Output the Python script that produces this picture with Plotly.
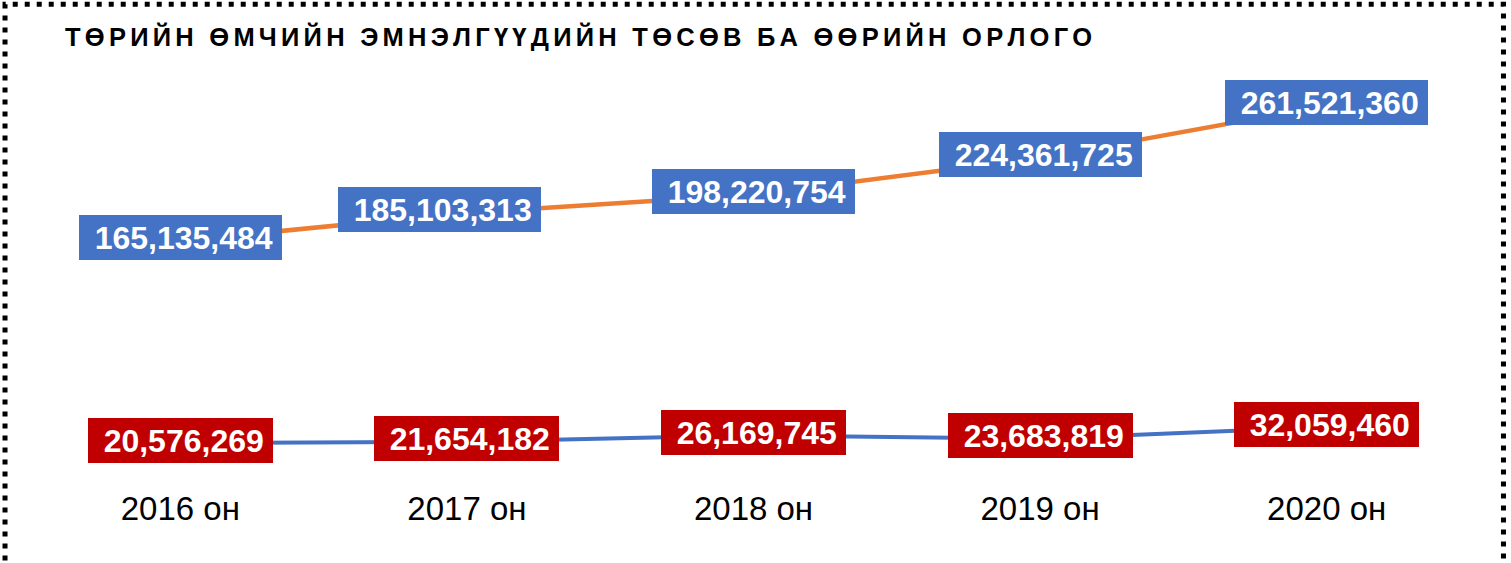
import plotly.graph_objects as go

# ---- data ----
categories = ["2016 он", "2017 он", "2018 он", "2019 он", "2020 он"]
budget = [165135484, 185103313, 198220754, 224361725, 261521360]
own_income = [20576269, 21654182, 26169745, 23683819, 32059460]
title_text = "ТӨРИЙН ӨМЧИЙН ЭМНЭЛГҮҮДИЙН ТӨСӨВ БА ӨӨРИЙН ОРЛОГО"

W, H = 1511, 563
L, R, T, B = 36.5, 40.5, 52, 91
pw, ph = W - L - R, H - T - B

def px_to_paper_x(px):
    return (px - L) / pw

def px_to_paper_y(py):
    return (H - B - py) / ph

FONT = "Arial, 'Liberation Sans', sans-serif"
xs = list(range(len(categories)))

fig = go.Figure()
fig.add_trace(go.Scatter(x=xs, y=budget, mode="lines",
                         line=dict(color="#ED7D31", width=4.5), hoverinfo="skip"))
fig.add_trace(go.Scatter(x=xs, y=own_income, mode="lines",
                         line=dict(color="#4472C4", width=4), hoverinfo="skip"))

annotations = []
for i, v in enumerate(budget):
    annotations.append(dict(
        x=i, y=v, xref="x", yref="y", text="\u2009" + f"{v:,}", showarrow=False,
        font=dict(family=FONT, size=32, color="white", weight="bold"),
        bgcolor="#4472C4", borderpad=0, borderwidth=0, width=203, height=45,
        xshift=-27 if i == 1 else 0, yshift=3))
for i, v in enumerate(own_income):
    annotations.append(dict(
        x=i, y=v, xref="x", yref="y", text="\u2009" + f"{v:,}", showarrow=False,
        font=dict(family=FONT, size=32, color="white", weight="bold"),
        bgcolor="#C00000", borderpad=0, borderwidth=0, width=185, height=45,
        yshift=3))

spaced_title = "\u2006".join(title_text)

fig.update_layout(
    width=W, height=H,
    margin=dict(l=L, r=R, t=T, b=B, pad=0),
    paper_bgcolor="white", plot_bgcolor="white",
    showlegend=False,
    title=dict(text=spaced_title, xref="container", yref="container",
               x=65 / W, xanchor="left", y=1 - 37 / H, yanchor="middle",
               font=dict(family=FONT, size=25.5, color="black", weight="bold")),
    xaxis=dict(range=[-0.5, len(categories) - 0.5], tickmode="array",
               tickvals=xs, ticktext=categories, showgrid=False, zeroline=False,
               showline=False, ticks="", ticklabelstandoff=14,
               tickfont=dict(family=FONT, size=33, color="black"), fixedrange=True),
    yaxis=dict(range=[0, 300e6], visible=False, showgrid=False, zeroline=False,
               fixedrange=True),
    annotations=annotations,
    shapes=[dict(type="rect", xref="paper", yref="paper",
                 x0=px_to_paper_x(4.5), x1=px_to_paper_x(1504),
                 y0=px_to_paper_y(620), y1=px_to_paper_y(4.2),
                 line=dict(color="black", width=5, dash="5px,7px"),
                 fillcolor="rgba(0,0,0,0)", layer="above")],
)

fig.write_html("out.html", config={"displayModeBar": False},
               post_script="document.body.style.margin='0';document.body.style.overflow='hidden';")
